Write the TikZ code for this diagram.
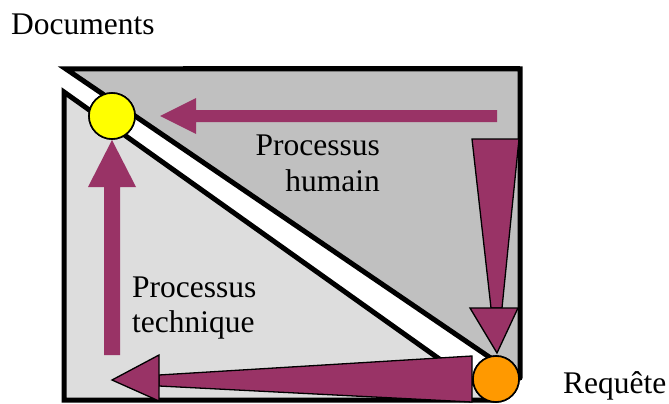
\documentclass[tikz,border=0pt]{standalone}
\usepackage{fontspec}
\setmainfont{Liberation Serif}
\newfontfamily\timesface{Liberation Serif}
\definecolor{upgray}{HTML}{C0C0C0}
\definecolor{lowgray}{HTML}{DDDDDD}
\definecolor{plum}{HTML}{993366}
\definecolor{docyellow}{HTML}{FFFF00}
\definecolor{reqorange}{HTML}{FF9900}
\tikzset{
  border/.style={line width=5pt, line join=miter, line cap=round},
  flatarrow/.style={fill=plum, draw=none},
  outarrow/.style={fill=plum, draw=black, line width=1.3pt, line join=miter},
  dot/.style={circle, draw=black, line width=1.6pt, minimum size=46pt, inner sep=0pt},
  lbl/.style={inner sep=0pt, font=\timesface\fontsize{31.5}{36}\selectfont}
}
\begin{document}
\begin{tikzpicture}[x=1pt,y=-1pt]
\useasboundingbox (0,0) rectangle (669,404);
% upper triangle
\fill[upgray] (66,69) -- (520,69) -- (520,378) -- cycle;
\draw[border] (520,378) -- (520,69) -- (66,69) -- (520,378);
\draw[line width=2pt] (183,67) -- (520,67);
% lower triangle
\fill[lowgray] (64,92) -- (64,400) -- (497,400) -- cycle;
\draw[border] (497,400) -- (64,400) -- (64,92) -- (497,400);
% circles (nodes)
\node[dot, fill=docyellow] (doc) at (112,116) {};
\node[dot, fill=reqorange] (req) at (496,379) {};
% top arrow (human process, to documents)
\fill[flatarrow] (497,110) -- (196,110) -- (196,98) -- (160,116) -- (196,134) -- (196,122) -- (497,122) -- cycle;
% left arrow (technical process, to documents)
\fill[flatarrow] (104,355) -- (104,187) -- (88,187) -- (112,140) -- (136,187) -- (120,187) -- (120,355) -- cycle;
% right tapered arrow (down to request)
\filldraw[outarrow] (472,139) -- (519,139) -- (502,308) -- (491,308) -- cycle;
\filldraw[outarrow] (470,308) -- (518,308) -- (497,353) -- cycle;
% bottom tapered arrow (from request to left)
\filldraw[outarrow] (472,356) -- (472,402) -- (159,386) -- (159,375) -- cycle;
\filldraw[outarrow] (159,355) -- (159,401) -- (112,380) -- cycle;
% redraw circles on top
\node[dot, fill=docyellow] at (doc) {};
\node[dot, fill=reqorange] at (req) {};
% labels
\node[lbl, anchor=base west] (tdoc) at (11,35) {Documents};
\node[lbl, anchor=base east] (th1) at (380,155) {Processus};
\node[lbl, anchor=base east] (th2) at (380,191) {humain};
\node[lbl, anchor=base west] (tt1) at (132,297) {Processus};
\node[lbl, anchor=base west] (tt2) at (132,332) {technique};
\node[lbl, anchor=base west] (treq) at (563,393) {Requête};
\end{tikzpicture}
\end{document}
